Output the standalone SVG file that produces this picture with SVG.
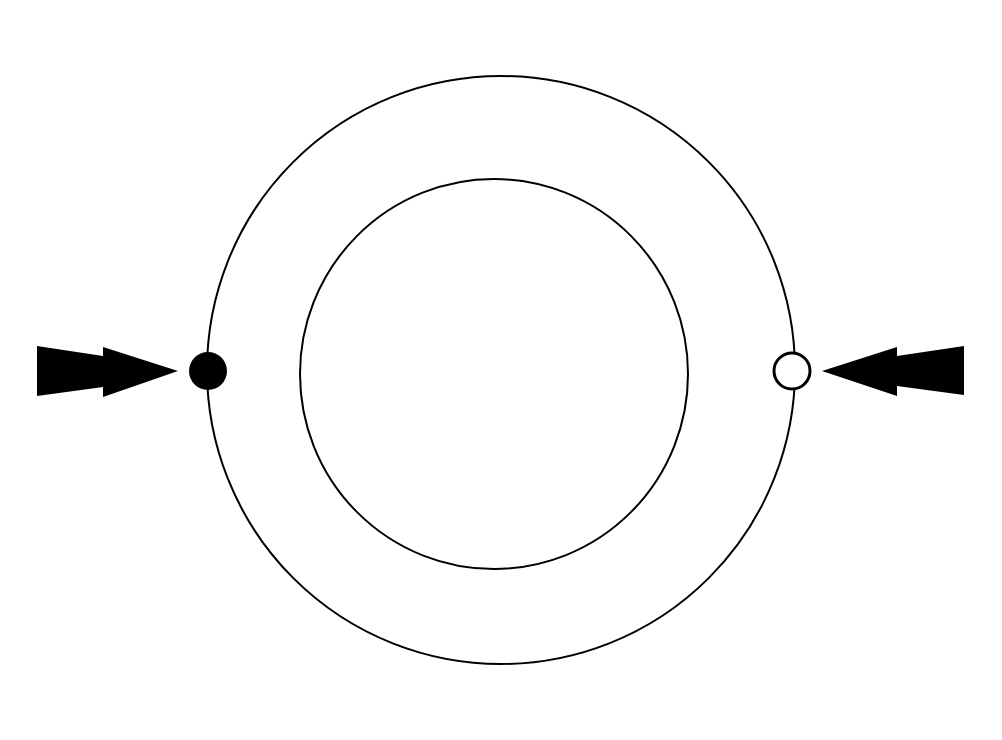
<svg xmlns="http://www.w3.org/2000/svg" width="1002" height="740" viewBox="0 0 1002 740">
<style>
.ring{fill:none;stroke:#000;stroke-width:2}
.arrow{fill:#000;stroke:none}
</style>
<rect width="1002" height="740" fill="#fff"/>
<g id="outer-circle"><ellipse class="ring" cx="501" cy="370" rx="294" ry="294"/></g>
<g id="inner-circle"><ellipse class="ring" cx="494" cy="374" rx="194" ry="195"/></g>
<g id="left-port"><circle cx="208" cy="371" r="19" fill="#000"/></g>
<g id="right-port"><circle cx="792" cy="371" r="18" fill="#fff" stroke="#000" stroke-width="3"/></g>
<g id="connectors">
<polygon class="arrow" points="37,346 103,356 103,347 178,371 103,397 103,387 37,396"/>
<polygon class="arrow" points="964,346 897,356 897,347 822,371 897,396 897,386 964,395"/>
</g>
</svg>
